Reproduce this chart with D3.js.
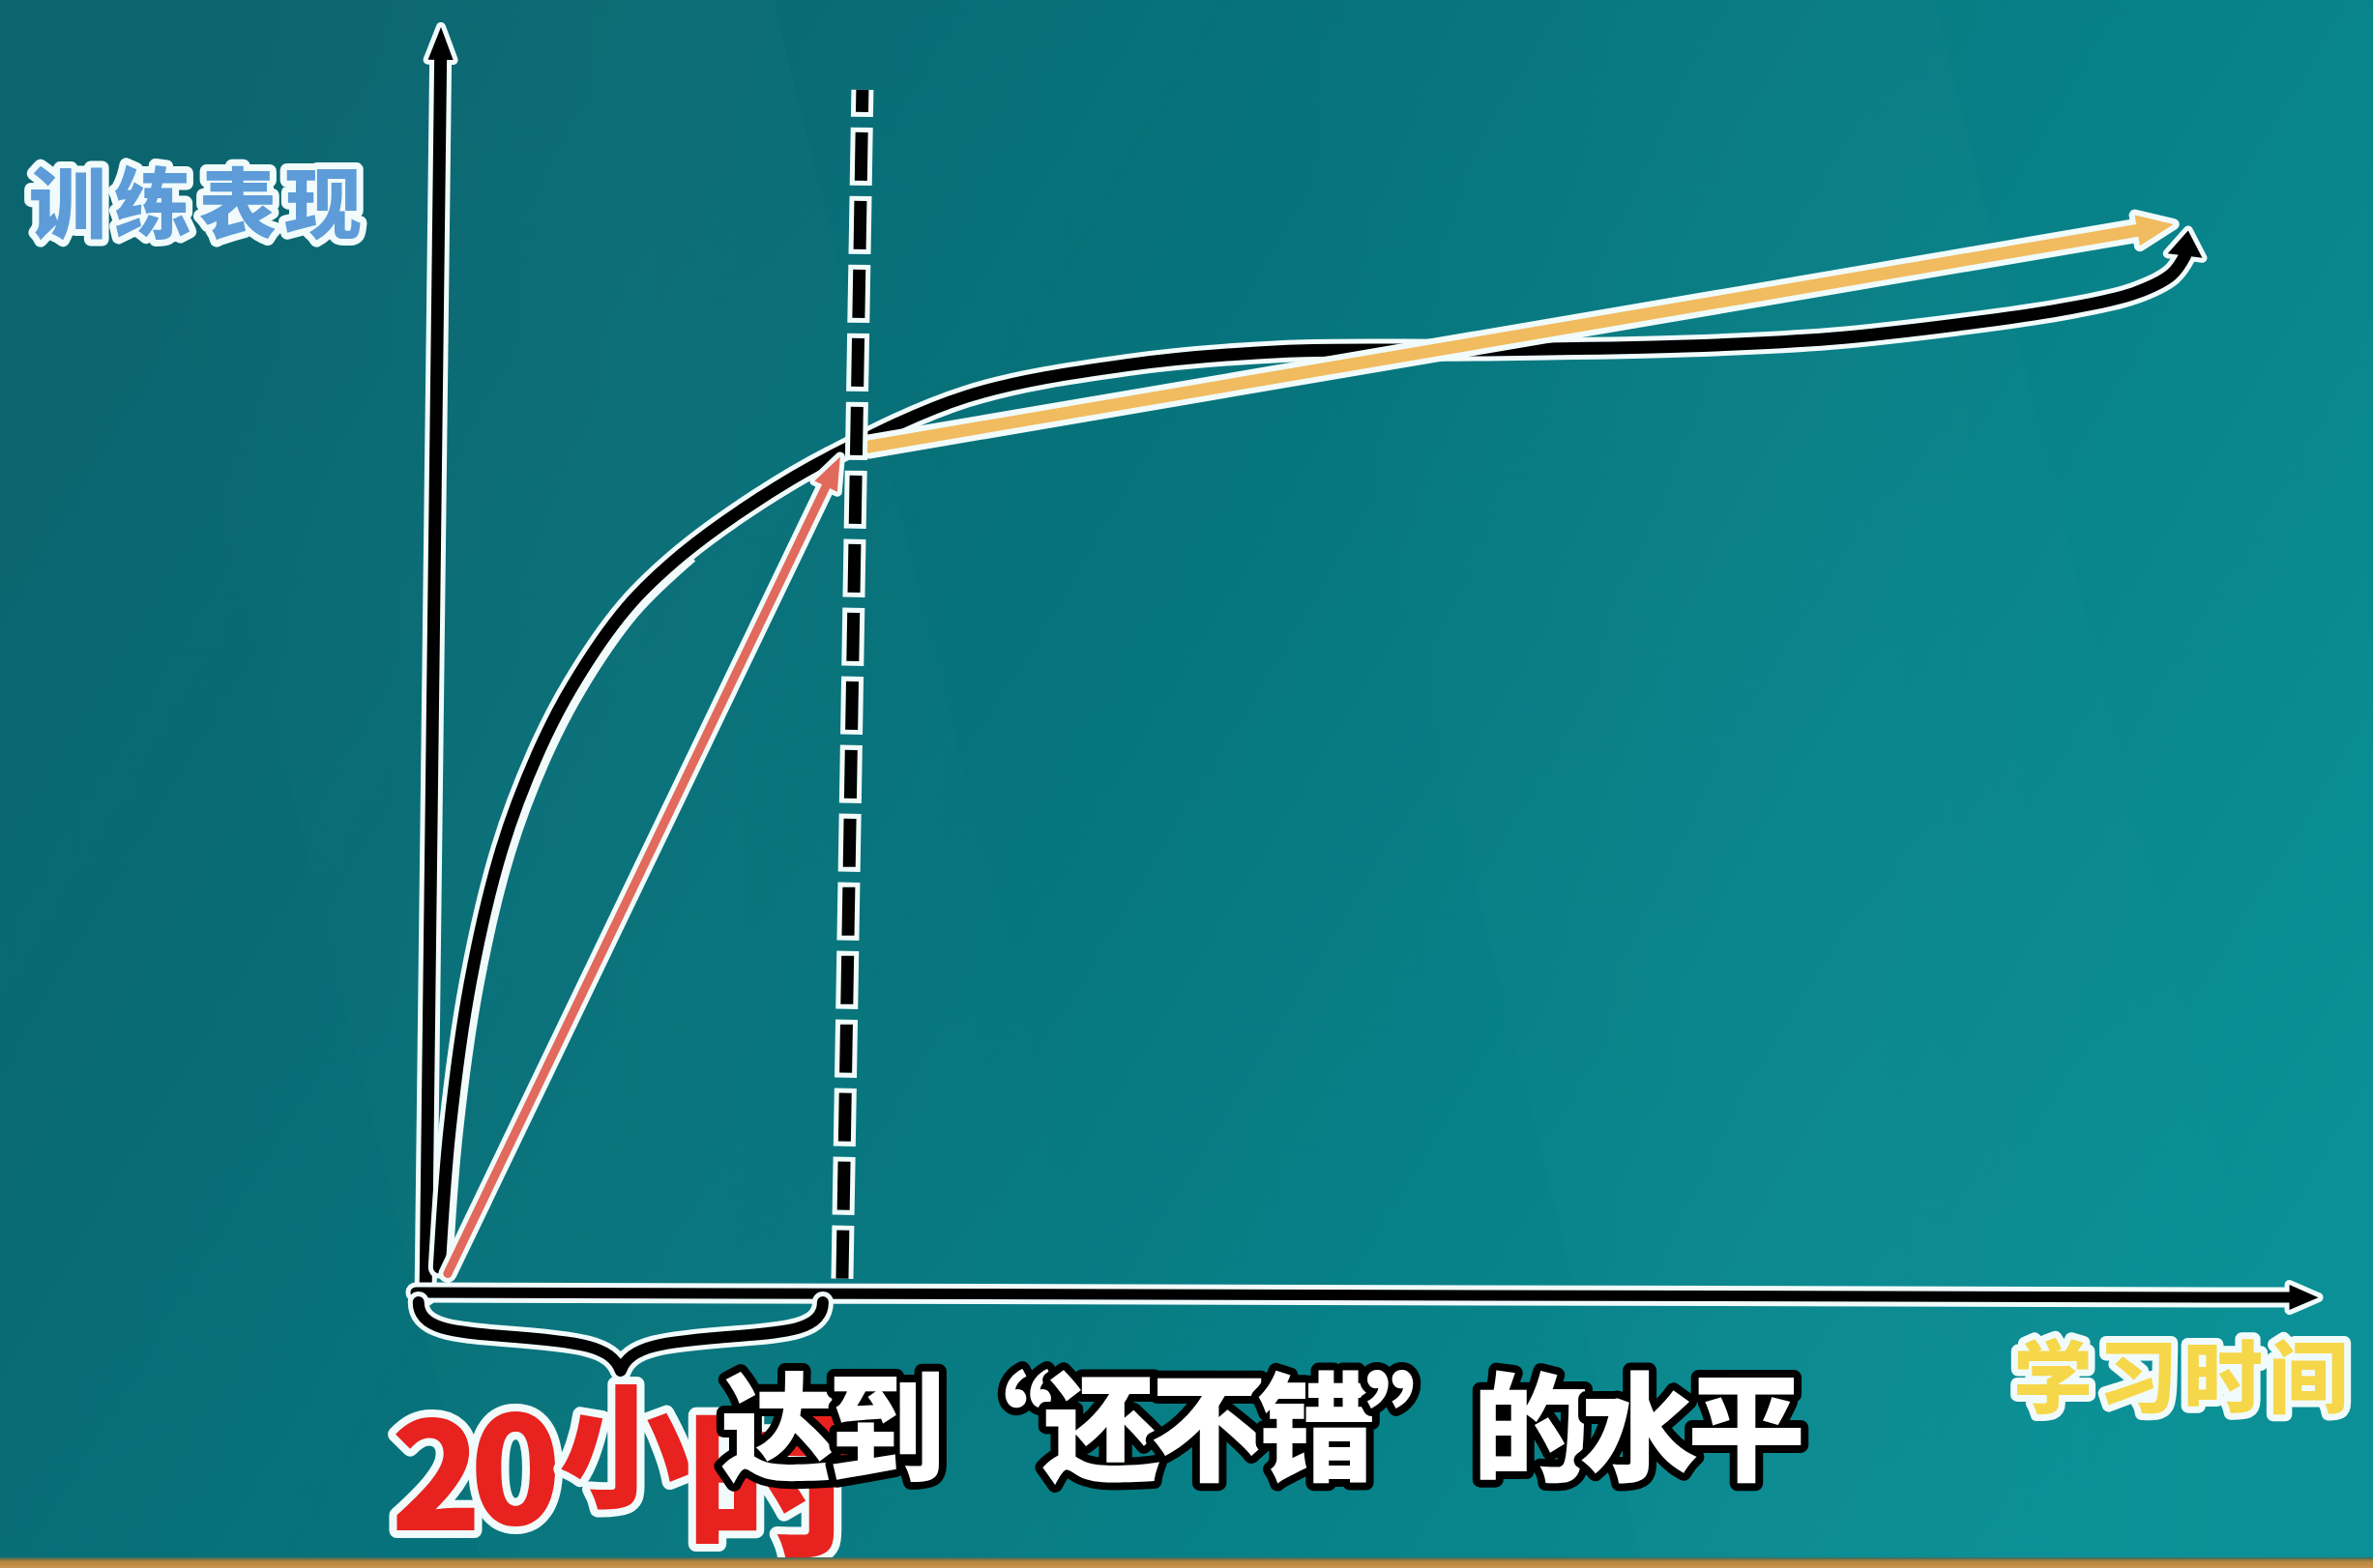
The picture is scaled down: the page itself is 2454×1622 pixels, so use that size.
<!DOCTYPE html>
<html><head><meta charset="utf-8">
<script src="https://cdn.jsdelivr.net/npm/d3@7"></script>
<style>html,body{margin:0;padding:0;background:#0b747c;}svg{display:block;}</style>
</head><body>
<svg id="chart" width="2454" height="1622"></svg>
<script>
// ---------- DATA (hours of practice vs. training performance) ----------
const curveHours = [0.2, 0.7, 1.7, 3.2, 4.9, 6.6, 9.2, 11.9, 15.5, 19.0, 25.5, 33.2, 40.9, 50.0, 60.0, 67.0, 73.0, 78.0, 81.5, 83.3, 83.95];
const curvePerf  = [2.0, 13.0, 24.8, 35.3, 42.8, 48.3, 54.5, 58.8, 63.1, 66.5, 71.3, 73.8, 74.9, 75.0, 75.3, 75.9, 77.0, 78.2, 79.5, 81.0, 82.5];
const curveTip   = [84.1, 84.5];           // [hours, performance] of black arrow tip
const redArrow    = [[0.6, 1.5], [19.43, 66.5]];
const orangeArrow = [[20.78, 67.3], [83.4, 85.0]];
const markerLine  = [[19.53, 1.1], [20.5, 95.7]];   // the "20 hours" dashed line
const yAxisLine   = [[-0.46, -0.2], [0.28, 100.7]];
const xAxisLine   = [[-0.93, 0], [90.35, -0.4]];
const braceHours  = [-0.8, 18.6];
const yLabel = "训练表现";
const xLabel = "学习时间";
const hoursLabel = ["2", "0", "小", "时"];
const subtitle = "达到“还不错”的水平";

// ---------- SETUP ----------
const W = 2454, H = 1622;
const svg = d3.select("#chart");
const x = d3.scaleLinear().domain([0, 90]).range([450, 2390]);
const y = d3.scaleLinear().domain([0, 100]).range([1337, 37]);
const OUT = "#f1fbfb";

// background
const defs = svg.append("defs");
const bg = defs.append("linearGradient").attr("id", "bg").attr("x1", "0").attr("y1", "0.3").attr("x2", "1").attr("y2", "0.7");
bg.append("stop").attr("offset", "0").attr("stop-color", "#0b656f");
bg.append("stop").attr("offset", "0.45").attr("stop-color", "#06757d");
bg.append("stop").attr("offset", "1").attr("stop-color", "#0a9096");
svg.append("rect").attr("width", W).attr("height", H).attr("fill", "url(#bg)");
const band = defs.append("linearGradient").attr("id", "band").attr("x1", "0").attr("y1", "0").attr("x2", "1").attr("y2", "0");
band.append("stop").attr("offset", "0").attr("stop-color", "#ffffff").attr("stop-opacity", 0);
band.append("stop").attr("offset", "0.5").attr("stop-color", "#ffffff").attr("stop-opacity", 0.018);
band.append("stop").attr("offset", "1").attr("stop-color", "#ffffff").attr("stop-opacity", 0);
svg.append("polygon").attr("points", "100,0 800,0 1200,1622 500,1622").attr("fill", "url(#band)");
svg.append("polygon").attr("points", "1300,0 2000,0 2400,1622 1700,1622").attr("fill", "url(#band)");
const strip = defs.append("linearGradient").attr("id", "strip").attr("x1", "0").attr("y1", "0").attr("x2", "0").attr("y2", "1");
strip.append("stop").attr("offset", "0").attr("stop-color", "#3c6a5a");
strip.append("stop").attr("offset", "0.4").attr("stop-color", "#b8843f");
strip.append("stop").attr("offset", "1").attr("stop-color", "#c89650");

const P = d => [x(d[0]), y(d[1])];

function arrowHead(base, tip, half) {
  const dx = tip[0] - base[0], dy = tip[1] - base[1];
  const len = Math.hypot(dx, dy), nx = -dy / len, ny = dx / len;
  return [tip, [base[0] + nx * half, base[1] + ny * half], [base[0] - nx * half, base[1] - ny * half]];
}
function backOff(a, b, d) {
  const dx = b[0] - a[0], dy = b[1] - a[1], len = Math.hypot(dx, dy);
  return [b[0] - dx / len * d, b[1] - dy / len * d];
}
function drawArrow(g, pts, color, width, headLen, half, outline) {
  const tip = pts[pts.length - 1];
  const base = backOff(pts[pts.length - 2], tip, headLen);
  const linePts = pts.slice(0, -1).concat([base]);
  const line = d3.line();
  g.append("path").attr("d", line(linePts)).attr("fill", "none").attr("stroke", OUT)
    .attr("stroke-width", width + outline * 2).attr("stroke-linecap", "round");
  g.append("polygon").attr("points", arrowHead(base, tip, half).map(p => p.join(",")).join(" "))
    .attr("fill", color).attr("stroke", OUT).attr("stroke-width", outline * 2)
    .attr("stroke-linejoin", "round").attr("paint-order", "stroke");
  g.append("path").attr("d", line(linePts)).attr("fill", "none").attr("stroke", color)
    .attr("stroke-width", width).attr("stroke-linecap", "round");
}

// axes
const axes = svg.append("g");
drawArrow(axes, yAxisLine.map(P), "#000", 13, 34, 13, 5);
drawArrow(axes, xAxisLine.map(P), "#000", 11, 30, 13, 5);

// brace under the first 20 hours
const bL = x(braceHours[0]), bR = x(braceHours[1]), bM = (bL + bR) / 2, bT = y(0) + 10;
const braceD = `M${bL},${bT} C${bL},${bT + 28} ${bL + 37},${bT + 31} ${bL + 87},${bT + 35}
  C${bM - 42},${bT + 41} ${bM - 10},${bT + 45} ${bM},${bT + 71}
  C${bM + 10},${bT + 45} ${bM + 42},${bT + 41} ${bR - 87},${bT + 35}
  C${bR - 37},${bT + 31} ${bR},${bT + 28} ${bR},${bT}`;
svg.append("path").attr("d", braceD).attr("fill", "none").attr("stroke", OUT).attr("stroke-width", 22).attr("stroke-linecap", "round").attr("stroke-linejoin", "round");
svg.append("path").attr("d", braceD).attr("fill", "none").attr("stroke", "#000").attr("stroke-width", 12).attr("stroke-linecap", "round").attr("stroke-linejoin", "round");

// black learning curve
const curveData = curveHours.map((h, i) => [h, curvePerf[i]]);
const curveLine = d3.line().x(d => x(d[0])).y(d => y(d[1])).curve(d3.curveCatmullRom.alpha(0.5));
const cg = svg.append("g");
cg.append("path").attr("d", curveLine(curveData)).attr("fill", "none").attr("stroke", OUT).attr("stroke-width", 23).attr("stroke-linecap", "round");
// hand-drawn white ghost line on the inner side
cg.append("path").attr("d", curveLine(curveData.slice(0, 8))).attr("fill", "none").attr("stroke", OUT)
  .attr("stroke-width", 5).attr("transform", "translate(11,6)");
const cBase = P(curveData[curveData.length - 1]), cTip = P(curveTip);
cg.append("polygon").attr("points", arrowHead(cBase, cTip, 18).map(p => p.join(",")).join(" "))
  .attr("fill", "#000").attr("stroke", OUT).attr("stroke-width", 10).attr("stroke-linejoin", "round").attr("paint-order", "stroke");
cg.append("path").attr("d", curveLine(curveData)).attr("fill", "none").attr("stroke", "#000").attr("stroke-width", 13).attr("stroke-linecap", "round");

// red arrow (first 20 hours) and orange arrow (after)
drawArrow(svg.append("g"), redArrow.map(P), "#e26a5c", 9, 34, 13, 5);
drawArrow(svg.append("g"), orangeArrow.map(P), "#f1bb5f", 13, 38, 16, 6);

// dashed marker
const mkD = d3.line()(markerLine.map(P));
svg.append("path").attr("d", mkD).attr("stroke", OUT).attr("stroke-width", 23).attr("fill", "none")
  .attr("stroke-dasharray", "60 11").attr("stroke-dashoffset", 5);
svg.append("path").attr("d", mkD).attr("stroke", "#000").attr("stroke-width", 13).attr("fill", "none")
  .attr("stroke-dasharray", "50 21");

// texts
const font = "'Noto Sans CJK SC', 'Noto Sans', sans-serif";
svg.append("text").text(yLabel).attr("x", 30).attr("y", 240)
  .attr("font-family", font).attr("font-weight", 900).attr("font-size", 80).attr("letter-spacing", 8)
  .attr("fill", "#5d9cd8").attr("stroke", OUT).attr("stroke-width", 14).attr("stroke-linejoin", "round").attr("paint-order", "stroke");
svg.append("text").text(xLabel).attr("x", 2082).attr("y", 1455)
  .attr("font-family", font).attr("font-weight", 900).attr("font-size", 82).attr("letter-spacing", 6)
  .attr("fill", "#f6d74a").attr("stroke", OUT).attr("stroke-width", 14).attr("stroke-linejoin", "round").attr("paint-order", "stroke");

const hoursLayout = [{x: 404, y: 1583, s: 155}, {x: 486, y: 1577, s: 155}, {x: 578, y: 1548, s: 138}, {x: 710, y: 1598, s: 172}];
const red = svg.append("text").attr("font-family", font).attr("font-weight", 900)
  .attr("fill", "#e8221f").attr("stroke", OUT).attr("stroke-width", 16).attr("stroke-linejoin", "round").attr("paint-order", "stroke");
red.selectAll("tspan").data(hoursLabel).join("tspan")
  .attr("x", (d, i) => hoursLayout[i].x).attr("y", (d, i) => hoursLayout[i].y)
  .attr("font-size", (d, i) => hoursLayout[i].s).text(d => d);

svg.append("text").text(subtitle).attr("x", 745).attr("y", 1522)
  .attr("font-family", font).attr("font-weight", 900).attr("font-size", 122)
  .attr("textLength", 1122).attr("lengthAdjust", "spacing")
  .attr("fill", "#ffffff").attr("stroke", "#000").attr("stroke-width", 16).attr("stroke-linejoin", "round").attr("paint-order", "stroke");

// bottom strip drawn last (covers the lower edge of the red label as in the reference)
svg.append("rect").attr("x", 0).attr("y", 1611).attr("width", W).attr("height", 11).attr("fill", "url(#strip)");
</script>
</body></html>
